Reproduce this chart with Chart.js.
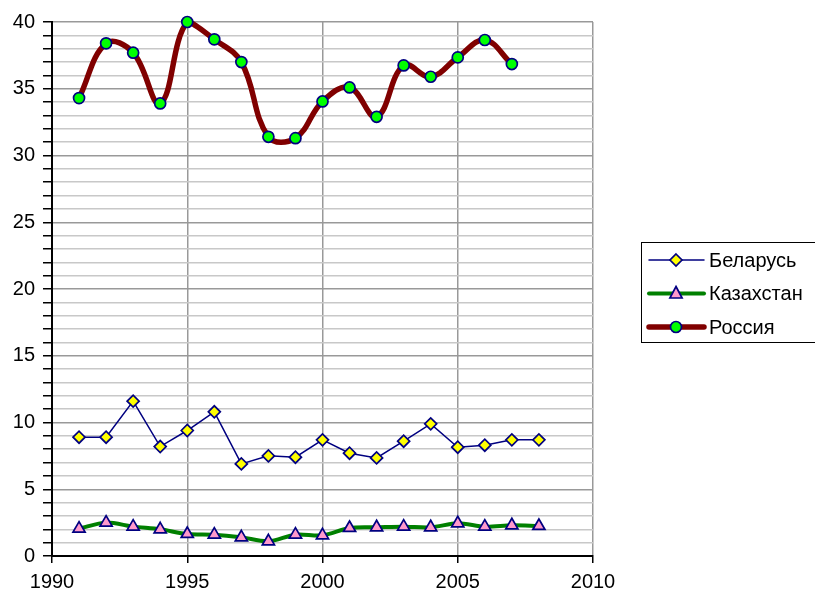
<!DOCTYPE html>
<html>
<head>
<meta charset="utf-8">
<script src="https://cdn.jsdelivr.net/npm/chart.js@4"></script>
<style>
  html, body { margin: 0; padding: 0; background: #fff; }
  canvas { display: block; }
</style>
</head>
<body>
<canvas id="chart" width="815" height="594"></canvas>
<script>
const years = [1991, 1992, 1993, 1994, 1995, 1996, 1997, 1998, 1999, 2000,
  2001, 2002, 2003, 2004, 2005, 2006, 2007, 2008];
const belarus = [8.9, 8.9, 11.6, 8.2, 9.4, 10.8, 6.9, 7.5, 7.4, 8.7,
  7.7, 7.35, 8.6, 9.9, 8.15, 8.3, 8.7, 8.7];
const kazakhstan = [2.05, 2.5, 2.2, 2.0, 1.65, 1.6, 1.4, 1.1, 1.6, 1.55,
  2.1, 2.15, 2.2, 2.15, 2.45, 2.2, 2.3, 2.25];
const russia = [34.3, 38.4, 37.7, 33.9, 40.0, 38.7, 37.0, 31.4, 31.3, 34.05,
  35.1, 32.9, 36.75, 35.9, 37.35, 38.65, 36.85];
const xTicks = [1990, 1995, 2000, 2005, 2010];

const toPoints = (vals) => vals.map((v, i) => ({ x: years[i], y: v }));

function drawMarker(ctx, style, r, x, y) {
  ctx.beginPath();
  if (style === "rectRot") {
    ctx.moveTo(x, y - r);
    ctx.lineTo(x + r, y);
    ctx.lineTo(x, y + r);
    ctx.lineTo(x - r, y);
  } else if (style === "triangle") {
    ctx.moveTo(x, y - r);
    ctx.lineTo(x + r * 0.87, y + r * 0.5 + 1);
    ctx.lineTo(x - r * 0.87, y + r * 0.5 + 1);
  } else {
    ctx.arc(x, y, r, 0, Math.PI * 2);
  }
  ctx.closePath();
  ctx.fill();
  ctx.stroke();
}

// legend box on the right, drawn like the spreadsheet one
const boxLegend = {
  id: "boxLegend",
  afterDraw: (chart) => {
    const { ctx } = chart;
    ctx.save();
    ctx.strokeStyle = "#000";
    ctx.lineWidth = 1;
    ctx.strokeRect(641.5, 242.5, 200, 100);
    ctx.font = "20px Arial, 'Liberation Sans', sans-serif";
    ctx.textBaseline = "middle";
    chart.data.datasets.forEach((ds, i) => {
      const y = 260 + i * 33.5;
      ctx.strokeStyle = ds.borderColor;
      ctx.lineWidth = ds.borderWidth;
      ctx.lineCap = "round";
      ctx.beginPath();
      ctx.moveTo(649, y);
      ctx.lineTo(704, y);
      ctx.stroke();
      ctx.fillStyle = ds.pointBackgroundColor;
      ctx.strokeStyle = ds.pointBorderColor;
      ctx.lineWidth = ds.pointBorderWidth;
      drawMarker(ctx, ds.pointStyle, ds.pointRadius, 676, y);
      ctx.fillStyle = "#000";
      ctx.fillText(ds.label, 709, y + 1);
    });
    ctx.restore();
  },
};

const axisFont = { family: "Arial, 'Liberation Sans', sans-serif", size: 20 };

new Chart(document.getElementById("chart").getContext("2d"), {
  type: "line",
  data: {
    datasets: [
      {
        label: "Беларусь",
        data: toPoints(belarus),
        borderColor: "#000080",
        borderWidth: 1.5,
        tension: 0,
        pointStyle: "rectRot",
        pointRadius: 6,
        pointBackgroundColor: "#ffff00",
        pointBorderColor: "#000080",
        pointBorderWidth: 1.7,
        clip: 10,
      },
      {
        label: "Казахстан",
        data: toPoints(kazakhstan),
        borderColor: "#008000",
        borderWidth: 4,
        tension: 0.3,
        borderJoinStyle: "round",
        pointStyle: "triangle",
        pointRadius: 7,
        pointBackgroundColor: "#ff99cc",
        pointBorderColor: "#000080",
        pointBorderWidth: 1.7,
        clip: 10,
      },
      {
        label: "Россия",
        data: toPoints(russia),
        borderColor: "#800000",
        borderWidth: 5.5,
        tension: 0.4,
        borderJoinStyle: "round",
        borderCapStyle: "round",
        pointStyle: "circle",
        pointRadius: 5.5,
        pointBackgroundColor: "#00ff00",
        pointBorderColor: "#000080",
        pointBorderWidth: 1.7,
        clip: 10,
      },
    ],
  },
  options: {
    responsive: false,
    animation: false,
    layout: { padding: { top: 22, right: 222, bottom: 0, left: 0 } },
    scales: {
      x: {
        type: "linear",
        min: 1990,
        max: 2010,
        afterBuildTicks: (scale) => {
          scale.ticks = xTicks.map((v) => ({ value: v }));
        },
        afterFit: (scale) => {
          scale.height = 38;
        },
        ticks: {
          callback: (v) => String(v),
          font: axisFont,
          color: "#000",
          padding: 7,
          maxRotation: 0,
        },
        grid: {
          color: "#999999",
          lineWidth: 1.5,
          tickColor: "#000",
          tickLength: 7,
        },
        border: { color: "#000", width: 2 },
      },
      y: {
        min: 0,
        max: 40,
        afterFit: (scale) => {
          scale.width = 52;
        },
        ticks: {
          stepSize: 1,
          autoSkip: false,
          callback: (v) => (v % 5 === 0 ? v : ""),
          font: axisFont,
          color: "#000",
          padding: 8,
        },
        grid: {
          color: (c) => (c.tick && c.tick.value % 5 === 0 ? "#999999" : "#c8c8c8"),
          lineWidth: 1.5,
          tickColor: "#000",
          tickLength: 9,
        },
        border: { color: "#000", width: 2 },
      },
    },
    plugins: {
      legend: { display: false },
      tooltip: { enabled: false },
    },
  },
  plugins: [boxLegend],
});
</script>
</body>
</html>
